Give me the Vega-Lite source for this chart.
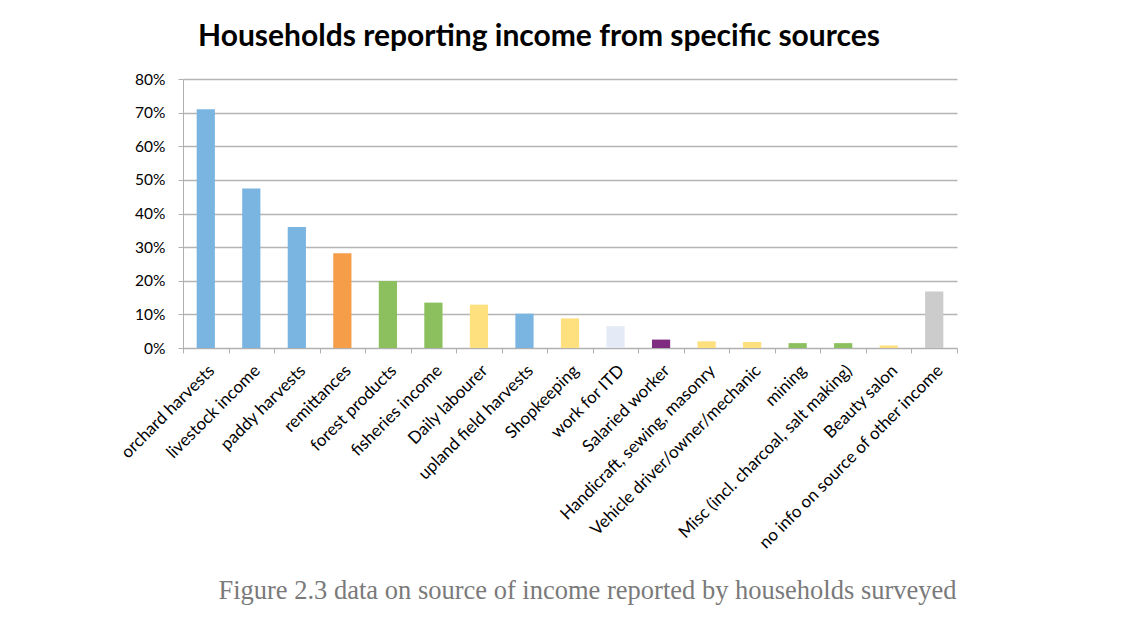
{
  "$schema": "https://vega.github.io/schema/vega-lite/v6.json",
  "width": 774,
  "height": 269,
  "autosize": {"type": "none"},
  "padding": {"left": 183, "top": 79, "right": 185, "bottom": 281},
  "background": "white",
  "title": {
    "text": "Households reporting income from specific sources",
    "font": "Lato",
    "fontSize": 30,
    "fontWeight": "bold",
    "color": "#000000",
    "anchor": "middle",
    "dx": -31,
    "offset": 20
  },
  "data": {
    "values": [
      {"source": "orchard harvests", "share": 0.71, "group": "farm"},
      {"source": "livestock income", "share": 0.474, "group": "farm"},
      {"source": "paddy harvests", "share": 0.36, "group": "farm"},
      {"source": "remittances", "share": 0.282, "group": "remittance"},
      {"source": "forest products", "share": 0.199, "group": "natural"},
      {"source": "fisheries income", "share": 0.135, "group": "natural"},
      {"source": "Daily labourer", "share": 0.129, "group": "labour"},
      {"source": "upland field harvests", "share": 0.102, "group": "farm"},
      {"source": "Shopkeeping", "share": 0.088, "group": "labour"},
      {"source": "work for ITD", "share": 0.065, "group": "itd"},
      {"source": "Salaried worker", "share": 0.025, "group": "salaried"},
      {"source": "Handicraft, sewing, masonry", "share": 0.02, "group": "labour"},
      {"source": "Vehicle driver/owner/mechanic", "share": 0.018, "group": "labour"},
      {"source": "mining", "share": 0.0145, "group": "natural"},
      {"source": "Misc (incl. charcoal, salt making)", "share": 0.0145, "group": "natural"},
      {"source": "Beauty salon", "share": 0.0075, "group": "labour"},
      {"source": "no info on source of other income", "share": 0.168, "group": "none"}
    ]
  },
  "mark": {"type": "bar", "width": {"band": 0.4}},
  "encoding": {
    "x": {
      "field": "source",
      "type": "nominal",
      "sort": null,
      "scale": {"paddingInner": 0, "paddingOuter": 0},
      "axis": {
        "title": "Figure 2.3 data on source of income reported by households surveyed",
        "titleFont": "Liberation Serif",
        "titleFontSize": 26.5,
        "titleFontWeight": "normal",
        "titleColor": "#7a7a7a",
        "titleX": 404,
        "titleY": 229,
        "titleAnchor": "middle",
        "titleAlign": "center",
        "labelAngle": -45,
        "labelFont": "Lato",
        "labelFontSize": 17,
        "labelColor": "#000000",
        "labelPadding": 9,
        "tickBand": "extent",
        "tickSize": 5,
        "tickColor": "#b0b0b0",
        "domainColor": "#b0b0b0",
        "grid": false,
        "labelOverlap": false,
        "labelLimit": 400
      }
    },
    "y": {
      "field": "share",
      "type": "quantitative",
      "scale": {"domain": [0, 0.8], "nice": false},
      "axis": {
        "title": null,
        "format": ".0%",
        "values": [0, 0.1, 0.2, 0.3, 0.4, 0.5, 0.6, 0.7, 0.8],
        "labelFont": "Lato",
        "labelFontSize": 15.5,
        "labelColor": "#000000",
        "labelPadding": 13,
        "tickSize": 5,
        "tickColor": "#b0b0b0",
        "domainColor": "#b0b0b0",
        "gridColor": "#b4b4b4",
        "gridWidth": 1.3
      }
    },
    "color": {
      "field": "group",
      "type": "nominal",
      "scale": {
        "domain": ["farm", "remittance", "natural", "labour", "itd", "salaried", "none"],
        "range": ["#7ab4e1", "#f69d4a", "#8cbf5e", "#fee07f", "#e4ebf7", "#7f2b7f", "#cccccc"]
      },
      "legend": null
    }
  },
  "config": {
    "view": {"stroke": null}
  }
}
